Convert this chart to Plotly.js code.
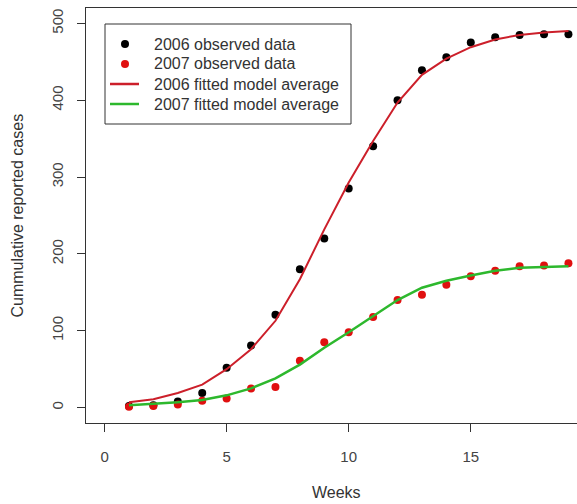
<!DOCTYPE html>
<html>
<head>
<meta charset="utf-8">
<script src="https://cdn.plot.ly/plotly-3.0.1.min.js"></script>
<style>
html,body{margin:0;padding:0;overflow:hidden;background:#fff;}
#chart{width:590px;height:504px;}
</style>
</head>
<body>
<div id="chart"></div>
<script>
const weeks = [1,2,3,4,5,6,7,8,9,10,11,12,13,14,15,16,17,18,19];
const observed2006 = [2,3,8,19,52,81,121,180,220,285,340,400,439,456,475,482,485,486,486];
const observed2007 = [1,2,4,9,12,25,27,61,85,98,118,140,147,160,171,178,184,185,188];
const fitted2006 = [7,11,19,30,50,76,113,167,232,293,347,397,433,454,469,479,485,488,490];
const fitted2007 = [3,5,7,10,16,25,38,56,78,98,119,140,156,165,172,178,182,183,184];
const xTicks = [0,5,10,15];
const yTicks = [0,100,200,300,400,500];
const seriesNames = ["2006 observed data","2007 observed data","2006 fitted model average","2007 fitted model average"];

const FONT = "Liberation Sans, Arial, sans-serif";
const C_BLACK = "#000000", C_REDPT = "#e01010", C_REDLN = "#cc1f2a", C_GREEN = "#2db82d";

const traces = [
  {x: weeks, y: observed2006, name: seriesNames[0], type: "scatter", mode: "markers",
   marker: {color: C_BLACK, size: 8}},
  {x: weeks, y: observed2007, name: seriesNames[1], type: "scatter", mode: "markers",
   marker: {color: C_REDPT, size: 8}},
  {x: weeks, y: fitted2006, name: seriesNames[2], type: "scatter", mode: "lines",
   line: {color: C_REDLN, width: 2}},
  {x: weeks, y: fitted2007, name: seriesNames[3], type: "scatter", mode: "lines",
   line: {color: C_GREEN, width: 2.5}}
];

// plot area in pixels: x 86..587, y 8..423
const PW = 501, PH = 415, PL = 86, PB = 423;
const px = v => (v - PL) / PW;
const py = v => (PB - v) / PH;

const shapes = [
  {type: "rect", xref: "paper", yref: "paper", x0: px(105), x1: px(351), y0: py(124), y1: py(24),
   line: {color: "#333333", width: 1}, fillcolor: "#ffffff", layer: "above"}
];
const annotations = [
  {text: "Weeks", xref: "paper", yref: "paper", x: 0.5, y: -0.168,
   xanchor: "center", yanchor: "middle", showarrow: false,
   font: {family: FONT, size: 16, color: "#333333"}},
  {text: "Cummulative reported cases", xref: "paper", yref: "paper", x: -0.1377, y: 0.5,
   xanchor: "center", yanchor: "middle", textangle: -90, showarrow: false,
   font: {family: FONT, size: 16, color: "#333333"}}
];
const rowY = [44, 64, 84, 104];
const legendStyle = [
  {kind: "dot", color: C_BLACK},
  {kind: "dot", color: C_REDPT},
  {kind: "line", color: C_REDLN},
  {kind: "line", color: C_GREEN}
];
seriesNames.forEach((name, i) => {
  const yy = rowY[i];
  const st = legendStyle[i];
  if (st.kind === "dot") {
    shapes.push({type: "circle", xref: "paper", yref: "paper",
      x0: px(121), x1: px(129), y0: py(yy + 4), y1: py(yy - 4),
      line: {width: 0}, fillcolor: st.color, layer: "above"});
  } else {
    shapes.push({type: "line", xref: "paper", yref: "paper",
      x0: px(110), x1: px(139), y0: py(yy), y1: py(yy),
      line: {color: st.color, width: 2.5}, layer: "above"});
  }
  annotations.push({text: name, xref: "paper", yref: "paper", x: px(152), y: py(yy),
    xanchor: "left", yanchor: "middle", showarrow: false,
    font: {family: FONT, size: 16, color: "#333333"}});
});

const layout = {
  width: 590, height: 504,
  margin: {l: 86, r: 3, t: 8, b: 81, pad: 0},
  paper_bgcolor: "#ffffff", plot_bgcolor: "#ffffff",
  font: {family: FONT, color: "#333333", size: 15},
  showlegend: false,
  xaxis: {
    range: [-0.76, 19.76], tickvals: xTicks, ticktext: xTicks.map(String),
    showgrid: false, zeroline: false, showline: true, mirror: true,
    linecolor: "#333333", linewidth: 1,
    ticks: "outside", ticklen: 8, tickcolor: "#333333", ticklabelstandoff: 12,
    tickfont: {family: FONT, size: 15, color: "#444444"}
  },
  yaxis: {
    range: [-20, 520], tickvals: yTicks, ticktext: yTicks.map(String),
    showgrid: false, zeroline: false, showline: true, mirror: true,
    linecolor: "#333333", linewidth: 1,
    ticks: "outside", ticklen: 8, tickcolor: "#333333", tickangle: -90, ticklabelstandoff: 8,
    tickfont: {family: FONT, size: 15, color: "#444444"}
  },
  shapes: shapes,
  annotations: annotations
};

Plotly.newPlot("chart", traces, layout, {displayModeBar: false, staticPlot: true});
</script>
</body>
</html>
